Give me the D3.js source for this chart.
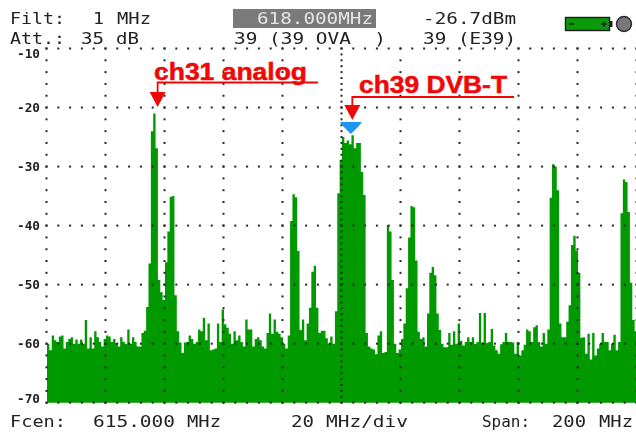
<!DOCTYPE html>
<html>
<head>
<meta charset="utf-8">
<script src="https://cdn.jsdelivr.net/npm/d3@7"></script>
<style>
html,body{margin:0;padding:0;background:#fff;overflow:hidden}
svg{display:block}
text{font-family:"DejaVu Sans Mono",monospace;fill:#222}
.note{font-family:"Liberation Sans",Arial,sans-serif;font-weight:bold;fill:#f00808;stroke:#f00808;stroke-width:0.5}
</style>
</head>
<body>
<div id="viz"></div>
<script>
// spectrum, one value per display column (dBm)
var levels = [
	-60,-61.1,-58.6,-59.4,-59.7,-58.8,-58.6,-60.8,-59.7,-59.2,
	-58.9,-60,-59.3,-60,-59.3,-60,-56,-60.8,-58.9,-60.8,
	-57.9,-58.9,-59.7,-60.5,-59.2,-58.6,-58.8,-59.7,-59.2,-59.9,
	-60.5,-58.9,-59.7,-60,-57.6,-60,-58.9,-59.7,-60.5,-60.5,
	-58.2,-57.8,-53.8,-46.4,-24,-21,-26.9,-49.2,-51.3,-52.6,
	-46.2,-41,-35.1,-35,-51.8,-57.9,-59.8,-61.6,-59.8,-59.7,
	-58.6,-59.2,-60,-59.7,-57.6,-57.9,-55.6,-59.4,-56.6,-61.1,
	-61,-60.8,-56.6,-59.7,-54.2,-56.7,-57.3,-58.3,-60,-57.9,
	-59.4,-58.6,-59.7,-60.5,-55.9,-57.6,-57.6,-60.5,-59.2,-58.9,
	-59.4,-60.5,-60.8,-58.2,-54.9,-58.3,-55.9,-58,-58.3,-58.9,
	-60,-60.8,-58.6,-39.2,-34.7,-35.2,-44.3,-57.7,-55.9,-59.4,
	-56.6,-53.9,-47.8,-46.8,-53.9,-58.2,-57.8,-57.8,-59.1,-60,
	-58.8,-60,-54.5,-34.5,-28.9,-25,-26,-25.6,-26.2,-24.7,
	-26.9,-26,-26,-30.9,-34.8,-58.2,-60.5,-60.8,-61,-61.8,
	-58.6,-57.9,-61.6,-61.4,-39.9,-41,-49.2,-60,-61.6,-61,
	-59.2,-56.6,-50.6,-42,-36.7,-36.9,-45.9,-58,-59.2,-58.9,
	-60.5,-54.9,-48,-47,-48.4,-54.9,-57.7,-60,-60.6,-60.6,
	-58.2,-60.2,-57.9,-60,-56.6,-59.5,-60.3,-59.7,-58.9,-59.7,
	-58.9,-60,-59.7,-54.8,-59.8,-54.8,-59.9,-59.7,-57.5,-60.3,
	-61.1,-61.7,-60.1,-59.7,-58.2,-59.7,-59.7,-59.8,-61.7,-59.7,
	-62,-61.1,-60.2,-57.6,-57.9,-59.7,-57.2,-56.9,-59.7,-60.5,
	-58.2,-60,-57.6,-35.3,-29.6,-30,-34,-56.6,-58.9,-58.9,
	-56.3,-53.5,-43.3,-41.7,-44.2,-48,-59,-58.9,-61.7,-58.3,
	-62.7,-58.2,-62,-60.8,-60,-58.2,-59.7,-59.7,-61.1,-60,
	-58.5,-61.1,-59.7,-37.9,-32.2,-32.6,-37.7,-49.7,-56,-58
];
var dbTicks = [-10,-20,-30,-40,-50,-60,-70];
var freqTicks = [515,535,555,575,595,615,635,655,675,695,715];
var centerFreq = 615;
var markerFreq = 618;
var markerTipDb = -24.5;
var analogFreq = 552.5;
var dvbFreq = 618.5;

var svg = d3.select("#viz")
	.append("svg")
	.attr("width",636)
	.attr("height",432);

var x = d3.scaleLinear().domain([515,715]).range([47,637]);
var y = d3.scaleLinear().domain([-70,-10]).range([402.7,48.5]);
var bins = d3.scaleLinear().domain([0,levels.length]).range([47,637]);

var defs = svg.append("defs");
defs.append("filter").attr("id","soft")
	.append("feGaussianBlur").attr("stdDeviation",0.45);
defs.append("filter").attr("id","softer")
	.append("feGaussianBlur").attr("stdDeviation",0.3);

var plot = svg.append("g").attr("filter","url(#soft)");

// spectrum, stepped so the columns have no seams
var area = d3.area()
	.curve(d3.curveStepAfter)
	.x(function(d,i){return bins(i)})
	.y0(y(-70))
	.y1(function(d){return y(d)});
plot.append("path")
	.datum(levels.concat(levels[levels.length-1]))
	.attr("d",area)
	.attr("fill","#009a00");

// dotted graticule, on top of the trace
function dots(data,cx,cy){
	plot.append("g").selectAll("rect")
		.data(data)
		.enter()
		.append("rect")
		.attr("x",function(d){return cx(d)-1})
		.attr("y",function(d){return cy(d)-1})
		.attr("width",2)
		.attr("height",2)
		.attr("fill","#262626");
}
var freqDots = d3.range(515,716,4);
dbTicks.forEach(function(db){
	dots(freqDots,function(f){return x(f)-0.5},function(){return y(db)});
});
freqTicks.forEach(function(f){
	var step = f==centerFreq ? 1 : 2;
	dots(d3.range(-70,-9,step),function(){return x(f)-0.5},function(db){return y(db)});
});

// tick labels, the first and last one are kept inside the screen
var axis = svg.append("g")
	.attr("transform","translate(40,0)")
	.call(d3.axisLeft(y).tickValues(dbTicks).tickSize(0).tickPadding(0).tickFormat(function(d){return String(d)}));
axis.select(".domain").remove();
axis.selectAll("text")
	.attr("font-family","DejaVu Sans Mono")
	.attr("font-size",11.5)
	.attr("font-weight","bold")
	.attr("dy",function(d){return d==-10 ? "9px" : d==-70 ? "0px" : "4px"})
	.attr("textLength",23)
	.attr("lengthAdjust","spacingAndGlyphs")
	.attr("filter","url(#softer)");

// header and footer text
var labels = [
	{t:"Filt:",x:10,y:24,w:55},
	{t:"1",x:93,y:24,w:11},
	{t:"MHz",x:117,y:24,w:34},
	{t:"Att.:",x:10,y:44,w:55},
	{t:"35",x:81,y:44,w:23},
	{t:"dB",x:116,y:44,w:23},
	{t:"39 (39 OVA  )",x:234,y:44,w:152},
	{t:"-26.7dBm",x:423,y:24,w:93},
	{t:"39 (E39)",x:423,y:44,w:93},
	{t:"Fcen:",x:10,y:427,w:56},
	{t:"615.000",x:93,y:427,w:82},
	{t:"MHz",x:187,y:427,w:34},
	{t:"20",x:291,y:427,w:23},
	{t:"MHz/div",x:326,y:427,w:82},
	{t:"Span:",x:482,y:427,w:48},
	{t:"200",x:552,y:427,w:34},
	{t:"MHz",x:599,y:427,w:34}
];
svg.append("rect").attr("x",233).attr("y",9).attr("width",143).attr("height",19).attr("fill","#7a7a7a");
svg.append("text").text("618.000MHz")
	.attr("x",257).attr("y",24)
	.attr("font-size",16)
	.attr("textLength",116).attr("lengthAdjust","spacingAndGlyphs")
	.style("fill","#e4e4e4")
	.attr("filter","url(#softer)");
svg.append("g").selectAll("text")
	.data(labels)
	.enter()
	.append("text")
	.text(function(d){return d.t})
	.attr("x",function(d){return d.x})
	.attr("y",function(d){return d.y})
	.attr("font-size",16)
	.attr("textLength",function(d){return d.w})
	.attr("lengthAdjust","spacingAndGlyphs")
	.style("white-space","pre")
	.attr("filter","url(#softer)");

// battery and status lamp
svg.append("rect").attr("x",565.5).attr("y",17.5).attr("width",44).attr("height",13)
	.attr("fill","#0a9a0a").attr("stroke","#1c1c1c").attr("stroke-width",1.4);
svg.append("rect").attr("x",610).attr("y",21).attr("width",2.5).attr("height",6).attr("fill","#1c1c1c");
svg.append("path").attr("d","M569 24H574M601 24H607M604 21V27").attr("stroke","#1c1c1c").attr("stroke-width",1.4).attr("fill","none");
svg.append("circle").attr("cx",624).attr("cy",24).attr("r",7.5)
	.attr("fill","#777").attr("stroke","#2a2a2a").attr("stroke-width",1.4);

// channel marker
var mx = x(markerFreq), my = y(markerTipDb);
svg.append("path")
	.attr("d","M"+(mx-11)+" "+(my-12)+"H"+(mx+11)+"L"+(mx+8)+" "+(my-8)+"L"+mx+" "+my+"L"+(mx-8)+" "+(my-8)+"Z")
	.attr("fill","#1e96f0")
	.attr("filter","url(#softer)");

// red notes
function note(label,textX,textY,textW,freq,lineY,lineEnd,tipY){
	var ax = x(freq);
	svg.append("text").attr("class","note").text(label)
		.attr("x",textX).attr("y",textY)
		.attr("font-size",23)
		.attr("textLength",textW).attr("lengthAdjust","spacingAndGlyphs");
	svg.append("path")
		.attr("d","M"+lineEnd+" "+lineY+"H"+ax+"V"+(tipY-12))
		.attr("fill","none").attr("stroke","#f00808").attr("stroke-width",1.8);
	svg.append("path")
		.attr("d","M"+(ax-8)+" "+(tipY-15)+"H"+(ax+8)+"L"+ax+" "+tipY+"Z")
		.attr("fill","#f00808");
}
note("ch31 analog",154,80,153,analogFreq,82.5,318,107);
note("ch39 DVB-T",359,93,148,dvbFreq,97,514,120);
</script>
</body>
</html>
